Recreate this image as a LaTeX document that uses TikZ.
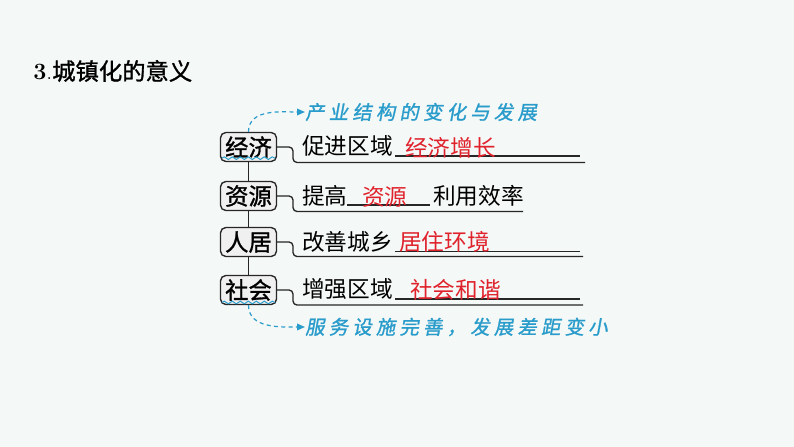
\documentclass[tikz,border=0pt]{standalone}
\usepackage{fontspec}
\usetikzlibrary{arrows.meta,decorations.pathmorphing}
\newfontfamily\cjk{Noto Sans CJK SC}
\newfontfamily\cjkb[FakeBold=1.2]{Noto Sans CJK SC}
\newfontfamily\hand[FakeSlant=0.18,FakeBold=1.2,LetterSpace=22]{Noto Sans CJK SC}
\definecolor{bgc}{HTML}{F4F8F6}
\definecolor{ansred}{HTML}{E0222C}
\definecolor{noteblue}{HTML}{2A9CCB}
\definecolor{boxfill}{HTML}{F0F0F0}
\tikzset{
  kbox/.style={draw=black!85, line width=1pt, fill=boxfill, rounded corners=4pt,
    minimum width=56*0.75pt, minimum height=29*0.75pt, inner sep=0pt,
    font=\cjkb\fontsize{17.5pt}{19pt}\selectfont},
  body/.style={anchor=west, inner sep=0pt, font=\cjk\fontsize{17pt}{19pt}\selectfont},
  ans/.style={anchor=west, inner sep=0pt, text=ansred, font=\cjk\fontsize{17pt}{19pt}\selectfont},
  note/.style={anchor=west, inner sep=0pt, text=noteblue, font=\hand\fontsize{14.5pt}{16pt}\selectfont},
  bline/.style={line width=1pt, black!85},
  bracket/.style={line width=1pt, black!85, rounded corners=3pt},
  wave/.style={noteblue, line width=0.7pt, decorate, decoration={snake, segment length=6pt, amplitude=1pt}},
  darrow/.style={noteblue, line width=0.9pt, dashed, dash pattern=on 3pt off 2.5pt, -{Triangle[length=6pt,width=5pt]}}
}
\begin{document}
\begin{tikzpicture}[x=0.75pt,y=-0.75pt]
\useasboundingbox (0,0) rectangle (794,447);
\fill[bgc] (0,0) rectangle (794,447);

% title
\node[anchor=west, inner sep=0pt, font=\fontsize{17.5pt}{19pt}\selectfont] (title) at (33,71)
  {\textbf{3}.{\cjkb 城镇化的意义}};

% boxes
\node[kbox] (b1) at (248.5,147) {经济};
\node[kbox] (b2) at (248.5,196) {资源};
\node[kbox] (b3) at (248.5,242) {人居};
\node[kbox] (b4) at (248.5,290) {社会};
\draw[bline] (b1.south) -- (b2.north);
\draw[bline] (b2.south) -- (b3.north);
\draw[bline] (b3.south) -- (b4.north);

% coordinates for bracket ends
\coordinate (e1) at (585,162.5);
\coordinate (e2) at (523,211.5);
\coordinate (e3) at (583,256.5);
\coordinate (e4) at (583,305);
\draw[bracket] (b1.east) -- (293,147) -- (293,162.5) -- (e1);
\draw[bracket] (b2.east) -- (293,196) -- (293,211.5) -- (e2);
\draw[bracket] (b3.east) -- (293,242) -- (293,256.5) -- (e3);
\draw[bracket] (b4.east) -- (293,290) -- (293,305) -- (e4);

% blanks
\coordinate (u1a) at (395,156); \coordinate (u1b) at (580,156);
\coordinate (u2a) at (347,205); \coordinate (u2b) at (430,205);
\coordinate (u3a) at (395,251.5); \coordinate (u3b) at (580,251.5);
\coordinate (u4a) at (395,299); \coordinate (u4b) at (580,299);
\draw[bline] (u1a) -- (u1b);
\draw[bline] (u2a) -- (u2b);
\draw[bline] (u3a) -- (u3b);
\draw[bline] (u4a) -- (u4b);

% texts
\node[body] (t1) at (302,146) {促进区域};
\node[ans] (a1) at (405,148) {经济增长};
\node[body] (t2) at (302,196) {提高};
\node[ans] (a2) at (362,197) {资源};
\node[body] (t2b) at (433,196) {利用效率};
\node[body] (t3) at (302,242) {改善城乡};
\node[ans] (a3) at (399,242) {居住环境};
\node[body] (t4) at (302,289) {增强区域};
\node[ans] (a4) at (410,290) {社会和谐};

% notes
\node[note] (n1) at (305,112) {产业结构的变化与发展};
\node[note] (n2) at (305,327) {服务设施完善，发展差距变小};

% waves
\draw[wave] ([xshift=1.5pt,yshift=3pt]b1.south west) -- ([xshift=-1.5pt,yshift=3pt]b1.south east);
\draw[wave] ([xshift=1.5pt,yshift=2pt]b4.south west) -- ([xshift=-1.5pt,yshift=2pt]b4.south east);

% dashed arrows
\draw[darrow] (b1.north) to[out=90,in=180] (n1.west);
\draw[darrow] (b4.south) to[out=-90,in=180] (n2.west);
\end{tikzpicture}
\end{document}
